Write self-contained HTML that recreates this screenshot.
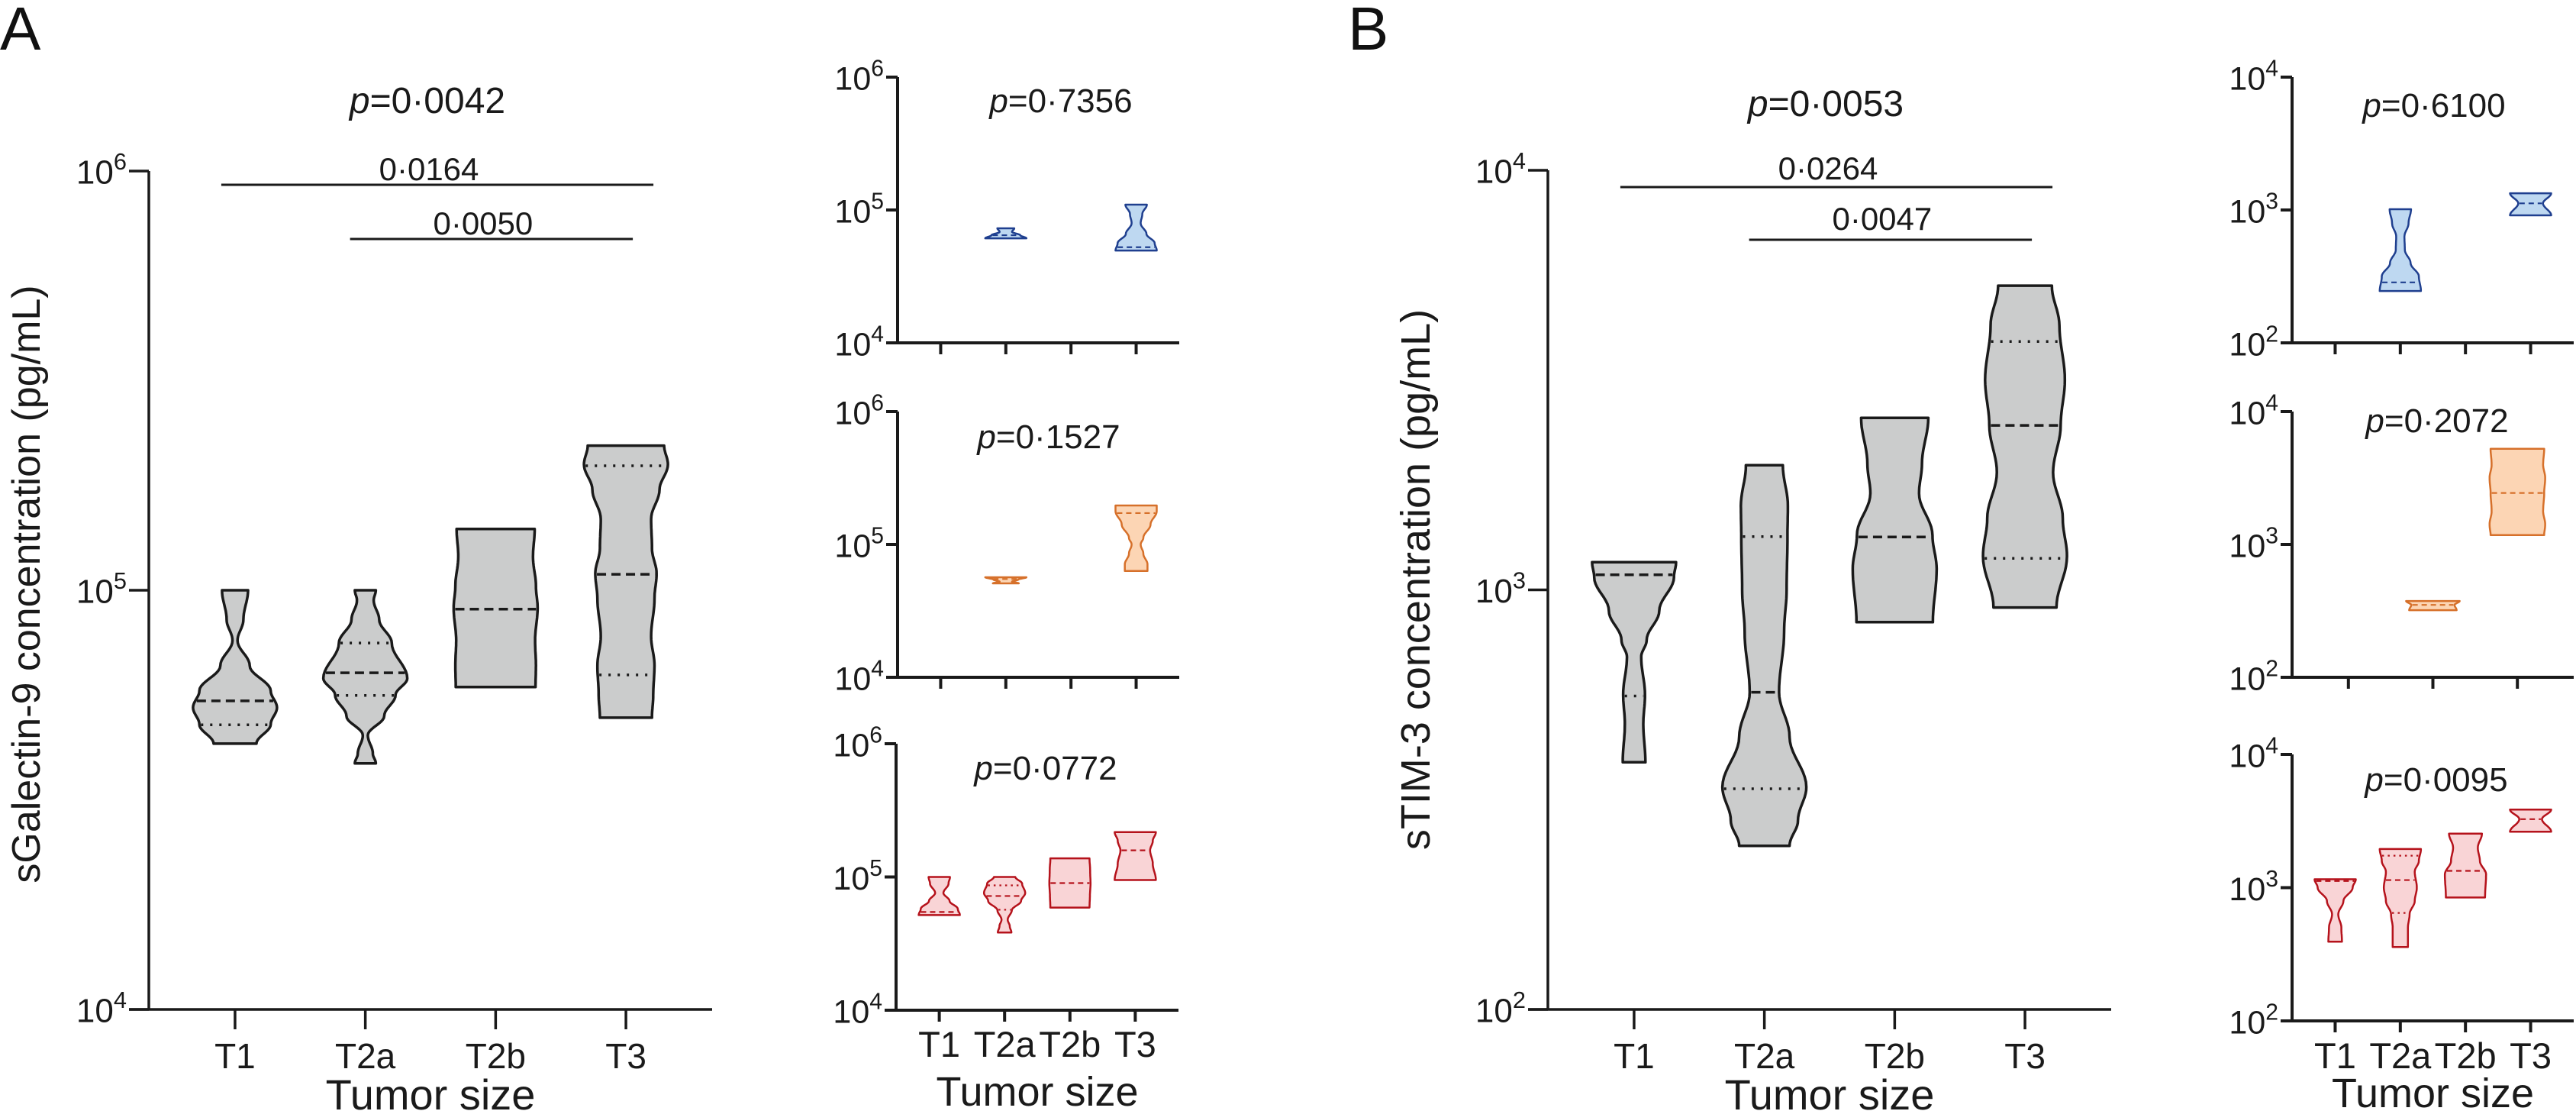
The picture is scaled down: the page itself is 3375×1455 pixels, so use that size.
<!DOCTYPE html>
<html>
<head>
<meta charset="utf-8">
<style>
html,body{margin:0;padding:0;background:#fff;}
svg{display:block;font-family:"Liberation Sans",Arial,sans-serif;}
</style>
</head>
<body>
<svg id="fig" xmlns="http://www.w3.org/2000/svg" width="3375" height="1455" viewBox="0 0 3375 1455">
<rect x="0" y="0" width="3375" height="1455" fill="#fff"/>
<text x="0" y="65" font-size="80" fill="#111">A</text>
<text x="1766" y="65" font-size="80" fill="#111">B</text>
</svg>
<script>
// ---------- data (log10 values) ----------
const categories4 = ["T1", "T2a", "T2b", "T3"];
const categories3 = ["T1", "T2a", "T3"];

// Panel A main: sGalectin-9
const aMainProfiles = [
  [[5.0,.31],[4.93,.2],[4.88,.06],[4.82,.35],[4.76,.85],[4.72,1.0],[4.68,.85],[4.634,.51]],
  [[5.0,.25],[4.976,.2],[4.93,.33],[4.874,.63],[4.79,1.0],[4.75,.72],[4.70,.45],[4.654,.06],[4.61,.18],[4.587,.25]],
  [[5.146,.93],[5.08,.89],[5.01,.96],[4.958,1.0],[4.88,.94],[4.82,.96],[4.769,.95]],
  [[5.345,.91],[5.30,1.0],[5.24,.8],[5.17,.6],[5.10,.62],[5.04,.73],[4.98,.68],[4.89,.6],[4.82,.68],[4.75,.65],[4.696,.62]]
];
const aMainMedians = [4.736, 4.803, 4.955, 5.038];
const aMainQ1 = [4.679, 4.749, null, 4.798];
const aMainQ3 = [null, 4.874, null, 5.297];

// Panel A small (blue / orange / red)
const aBlueProfiles = [null, [[4.862,.41],[4.835,.3],[4.81,.7],[4.787,1.0]], null, [[5.04,.52],[4.97,.3],[4.9,.22],[4.82,.5],[4.75,.9],[4.695,1.0]]];
const aBlueMedians = [null, 4.81, null, 4.72];
const aOrangeProfiles = [null, [[4.753,1.0],[4.735,.6],[4.72,.3],[4.707,.63]], null, [[5.293,1.0],[5.25,1.0],[5.15,.7],[5.05,.35],[5.0,.22],[4.93,.35],[4.85,.55],[4.80,.55]]];
const aOrangeMedians = [null, 4.74, null, 5.236];
const aRedProfiles = [
  [[5.0,.52],[4.95,.45],[4.88,.2],[4.82,.5],[4.76,.9],[4.714,1.0]],
  [[5.0,.52],[4.95,.85],[4.88,1.0],[4.82,.8],[4.75,.35],[4.68,.15],[4.63,.25],[4.583,.33]],
  [[5.14,.95],[5.05,.98],[4.95,1.0],[4.86,.97],[4.77,.95]],
  [[5.337,1.0],[5.27,.85],[5.2,.72],[5.1,.85],[4.977,1.0]]
];
const aRedMedians = [4.737, 4.857, 4.954, 5.2];
const aRedQ1 = [null, 4.754, null, null];
const aRedQ3 = [null, 4.937, null, null];

// Panel B main: sTIM-3
const bMainProfiles = [
  [[3.066,1.0],[3.03,.95],[2.95,.6],[2.88,.3],[2.84,.17],[2.75,.26],[2.68,.22],[2.589,.27]],
  [[3.297,.44],[3.2,.56],[3.127,.55],[3.0,.53],[2.9,.47],[2.756,.35],[2.65,.6],[2.53,1.0],[2.45,.8],[2.39,.6]],
  [[3.41,.8],[3.3,.65],[3.23,.58],[3.13,.9],[3.05,1.0],[2.923,.91]],
  [[3.725,.64],[3.63,.82],[3.5,.95],[3.392,.85],[3.28,.67],[3.17,.9],[3.08,1.0],[2.958,.75]]
];
const bMainMedians = [3.036, 2.756, 3.126, 3.392];
const bMainQ1 = [2.747, 2.526, null, 3.075];
const bMainQ3 = [null, 3.127, null, 3.592];

// Panel B small
const bBlueProfiles = [null, [[3.006,.52],[2.9,.4],[2.8,.2],[2.7,.22],[2.6,.5],[2.5,.9],[2.39,1.0]], null, [[3.126,1.0],[3.05,.6],[2.96,1.0]]];
const bBlueMedians = [null, 2.455, null, 3.05];
const bOrangeProfiles = [null, [[2.574,1.3],[2.545,1.05],[2.505,1.15]], [[3.72,1.3],[3.6,1.25],[3.5,1.35],[3.387,1.3],[3.25,1.25],[3.15,1.35],[3.07,1.3]]];
const bOrangeMedians = [null, 2.545, 3.387];
const bRedProfiles = [
  [[3.063,1.0],[3.0,.85],[2.9,.4],[2.8,.15],[2.7,.3],[2.594,.33]],
  [[3.29,1.0],[3.2,.9],[3.12,.7],[3.0,.8],[2.9,.7],[2.8,.45],[2.7,.37],[2.554,.37]],
  [[3.406,.8],[3.3,.6],[3.2,.7],[3.1,1.0],[2.926,.95]],
  [[3.586,1.0],[3.514,.55],[3.42,1.0]]
];
const bRedMedians = [3.05, 3.057, 3.126, 3.514];
const bRedQ1 = [null, 2.81, null, null];
const bRedQ3 = [null, 3.24, null, null];

// p-values and comparison labels
const pValues = ["0·0042","0·7356","0·1527","0·0772","0·0053","0·6100","0·2072","0·0095"];
const aBrackets = [[0,3,"0·0164"],[1,3,"0·0050"]];
const bBrackets = [[0,3,"0·0264"],[1,3,"0·0047"]];

// ---------- drawing ----------
const NS = "http://www.w3.org/2000/svg";
const svg = document.getElementById("fig");
function mk(tag, attrs, parent) {
  const e = document.createElementNS(NS, tag);
  for (const k in attrs) e.setAttribute(k, attrs[k]);
  (parent || svg).appendChild(e);
  return e;
}
function expand(prof) {
  const pts = [];
  for (let i = 0; i < prof.length - 1; i++) {
    const a = prof[i], b = prof[i + 1];
    for (let k = 0; k < 10; k++) {
      const t = k / 10, e = (1 - Math.cos(Math.PI * t)) / 2;
      pts.push([a[0] + (b[0] - a[0]) * t, a[1] + (b[1] - a[1]) * e]);
    }
  }
  pts.push(prof[prof.length - 1]);
  return pts;
}
function widthAt(prof, v) {
  for (let i = 0; i < prof.length - 1; i++) {
    const a = prof[i], b = prof[i + 1];
    if (v <= a[0] && v >= b[0]) {
      const t = (a[0] - v) / (a[0] - b[0]);
      const e = (1 - Math.cos(Math.PI * t)) / 2;
      return a[1] + (b[1] - a[1]) * e;
    }
  }
  return prof[prof.length - 1][1];
}
const STYLES = {
  gray:   {fill:"#cbcccc", stroke:"#1a1a1a", sw:3.5, medDash:"12 7", qDash:"3 9", lw:3.5},
  blue:   {fill:"#bed8f1", stroke:"#1f3f8f", sw:2.5, medDash:"7 5", qDash:"2.5 5", lw:2.2},
  orange: {fill:"#fcd5b4", stroke:"#d6702a", sw:2.5, medDash:"7 5", qDash:"2.5 5", lw:2.2},
  red:    {fill:"#f9d4d6", stroke:"#b5121b", sw:2.5, medDash:"7 5", qDash:"2.5 5", lw:2.2}
};

function drawPanel(c) {
  const g = mk("g", {});
  
  
  const ys = v => c.yBot - (v - c.lo) * (c.yBot - c.yTop) / (c.hi - c.lo);
  const n = c.cats.length;
  const step = (1 - 2 * c.pad) / (n - 1);
  const xs = i => c.x0 + (c.x1 - c.x0) * (c.pad + i * step);
  const st = STYLES[c.style];
  const yAxis = mk("line", {x1:c.x0, y1:c.yTop, x2:c.x0, y2:c.yBot, stroke:"#1a1a1a", "stroke-width":c.aw}, g);
  
  
  const xAxis = mk("line", {x1:c.x0 - c.tl, y1:c.yBot, x2:c.x1, y2:c.yBot, stroke:"#1a1a1a", "stroke-width":c.aw}, g);
  
  
  for (let d = c.lo; d <= c.hi; d++) {
    const y = ys(d);
    const tk = mk("line", {x1:c.x0 - c.tl, y1:y, x2:c.x0, y2:y, stroke:"#1a1a1a", "stroke-width":c.aw}, g);
    
    
    const t = mk("text", {x:c.x0 - c.tl - 3, y:y + c.lf * 0.38, "font-size":c.lf, "text-anchor":"end", fill:"#1a1a1a"}, g);
    
    
    const s1 = mk("tspan", {}, t); s1.textContent = "10";
    const s2 = mk("tspan", {dy:-c.lf * 0.42, "font-size":c.lf * 0.7}, t); s2.textContent = String(d);
  }
  for (let i = 0; i < n; i++) {
    const tk = mk("line", {x1:xs(i), y1:c.yBot, x2:xs(i), y2:c.yBot + c.tl, stroke:"#1a1a1a", "stroke-width":c.aw}, g);
    
    
    if (c.catY) {
      const t = mk("text", {x:xs(i), y:c.catY, "font-size":c.cf, "text-anchor":"middle", fill:"#1a1a1a"}, g);
      
      
      t.textContent = c.cats[i];
    }
  }
  if (c.xtY) {
    const t = mk("text", {x:(xs(0) + xs(n - 1)) / 2, y:c.xtY, "font-size":c.xf, "text-anchor":"middle", fill:"#1a1a1a"}, g);
    
    
    t.textContent = "Tumor size";
  }
  if (c.ytitle) {
    const t = mk("text", {x:0, y:0, transform:"translate(" + c.ytX + "," + c.ytY + ") rotate(-90)", "font-size":c.yf, "text-anchor":"middle", fill:"#1a1a1a"}, g);
    
    
    t.textContent = c.ytitle;
  }
  const pt = mk("text", {x:c.pX, y:c.pY, "font-size":c.pf, "text-anchor":"middle", fill:"#1a1a1a"}, g);
  
  
  const pi = mk("tspan", {"font-style":"italic"}, pt); pi.textContent = "p";
  const pv = mk("tspan", {}, pt); pv.textContent = "=" + c.p;
  (c.brackets || []).forEach((b, k) => {
    const bx1 = xs(b[0]) + c.bOff[k][0], bx2 = xs(b[1]) + c.bOff[k][1];
    const ln = mk("line", {x1:bx1, y1:c.bY[k], x2:bx2, y2:c.bY[k], stroke:"#1a1a1a", "stroke-width":3}, g);
    
    
    const t = mk("text", {x:(bx1 + bx2) / 2 - 11, y:c.bY[k] - c.bLift[k], "font-size":42, "text-anchor":"middle", fill:"#1a1a1a"}, g);
    
    
    t.textContent = b[2];
  });
  c.profiles.forEach((prof, i) => {
    if (!prof) return;
    const cx = xs(i);
    const pts = expand(prof);
    let d = "";
    pts.forEach((p, k) => { d += (k ? "L" : "M") + (cx + p[1] * c.hw).toFixed(1) + "," + ys(p[0]).toFixed(1); });
    for (let k = pts.length - 1; k >= 0; k--) d += "L" + (cx - pts[k][1] * c.hw).toFixed(1) + "," + ys(pts[k][0]).toFixed(1);
    d += "Z";
    const v = mk("path", {d:d, fill:st.fill, stroke:st.stroke, "stroke-width":st.sw, "stroke-linejoin":"round"}, g);
    
    
    const lines = [[c.medians[i], st.medDash, "median-line"], [c.q1 ? c.q1[i] : null, st.qDash, "quartile-line"], [c.q3 ? c.q3[i] : null, st.qDash, "quartile-line"]];
    lines.forEach(L => {
      if (L[0] == null) return;
      const w = widthAt(prof, L[0]) * c.hw - st.sw * 0.6;
      const y = ys(L[0]);
      const q = mk("line", {x1:cx - w, y1:y, x2:cx + w, y2:y, stroke:st.stroke, "stroke-width":st.lw, "stroke-dasharray":L[1]}, g);
      
      
    });
  });
}

const bracketOff = [[-18, 36], [-20, 9]];
drawPanel({name:"a-main-chart", x0:195, x1:933, yTop:224, yBot:1322, lo:4, hi:6, pad:.153, cats:categories4, style:"gray", hw:55,
  aw:3.5, tl:26, lf:44, catY:1399, cf:46, xtY:1453, xf:56, ytitle:"sGalectin-9 concentration (pg/mL)", ytX:52, ytY:765, yf:52,
  p:pValues[0], pX:560, pY:148, pf:48, brackets:aBrackets, bOff:bracketOff, bY:[242, 313], bLift:[6, 6],
  profiles:aMainProfiles, medians:aMainMedians, q1:aMainQ1, q3:aMainQ3});
drawPanel({name:"a-small-chart-blue", x0:1176, x1:1545, yTop:101, yBot:449, lo:4, hi:6, pad:.153, cats:categories4, style:"blue", hw:27,
  aw:4, tl:15, lf:43, p:pValues[1], pX:1390, pY:147, pf:44, profiles:aBlueProfiles, medians:aBlueMedians});
drawPanel({name:"a-small-chart-orange", x0:1176, x1:1545, yTop:539, yBot:887, lo:4, hi:6, pad:.153, cats:categories4, style:"orange", hw:27,
  aw:4, tl:15, lf:43, p:pValues[2], pX:1374, pY:587, pf:44, profiles:aOrangeProfiles, medians:aOrangeMedians});
drawPanel({name:"a-small-chart-red", x0:1174, x1:1544, yTop:974, yBot:1323, lo:4, hi:6, pad:.153, cats:categories4, style:"red", hw:27,
  aw:4, tl:15, lf:43, catY:1384, cf:47, xtY:1448, xf:54, p:pValues[3], pX:1370, pY:1021, pf:44,
  profiles:aRedProfiles, medians:aRedMedians, q1:aRedQ1, q3:aRedQ3});
drawPanel({name:"b-main-chart", x0:2028, x1:2766, yTop:223, yBot:1322, lo:2, hi:4, pad:.153, cats:categories4, style:"gray", hw:55,
  aw:3.5, tl:26, lf:44, catY:1399, cf:46, xtY:1453, xf:56, ytitle:"sTIM-3 concentration (pg/mL)", ytX:1873, ytY:759, yf:54,
  p:pValues[4], pX:2392, pY:152, pf:48, brackets:bBrackets, bOff:bracketOff, bY:[245, 314], bLift:[10, 13],
  profiles:bMainProfiles, medians:bMainMedians, q1:bMainQ1, q3:bMainQ3});
drawPanel({name:"b-small-chart-blue", x0:3003, x1:3372, yTop:101, yBot:449, lo:2, hi:4, pad:.153, cats:categories4, style:"blue", hw:27,
  aw:4, tl:15, lf:43, p:pValues[5], pX:3189, pY:153, pf:44, profiles:bBlueProfiles, medians:bBlueMedians});
drawPanel({name:"b-small-chart-orange", x0:3003, x1:3372, yTop:539, yBot:887, lo:2, hi:4, pad:.2, cats:categories3, style:"orange", hw:27,
  aw:4, tl:15, lf:43, p:pValues[6], pX:3193, pY:566, pf:44, profiles:bOrangeProfiles, medians:bOrangeMedians});
drawPanel({name:"b-small-chart-red", x0:3003, x1:3372, yTop:988, yBot:1337, lo:2, hi:4, pad:.153, cats:categories4, style:"red", hw:27,
  aw:4, tl:15, lf:43, catY:1399, cf:47, xtY:1450, xf:54, p:pValues[7], pX:3192, pY:1036, pf:44,
  profiles:bRedProfiles, medians:bRedMedians, q1:bRedQ1, q3:bRedQ3});
</script>
</body>
</html>
